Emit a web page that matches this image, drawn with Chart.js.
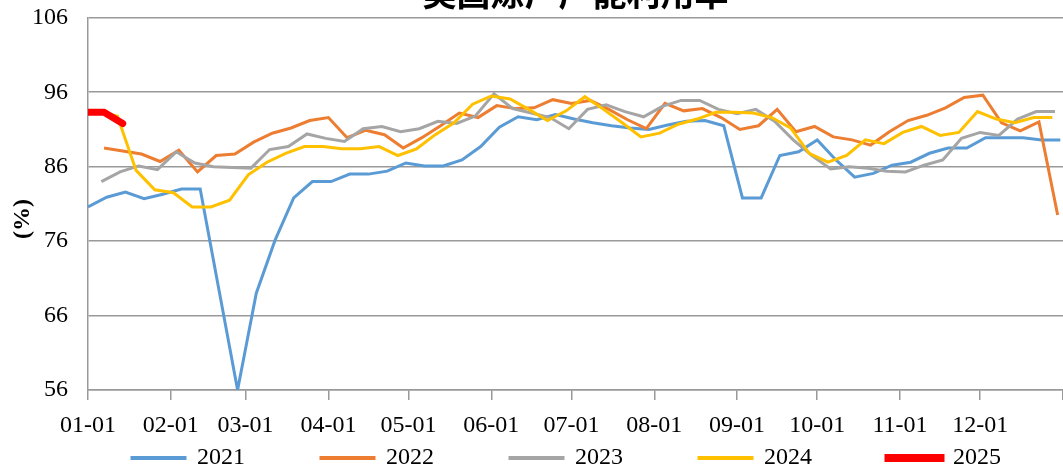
<!DOCTYPE html>
<html>
<head>
<meta charset="utf-8">
<script src="https://cdn.jsdelivr.net/npm/chart.js@4"></script>
<style>
  body { margin: 0; overflow: hidden; background: #fff; }
  /* title sits partly above the page edge, like the original screenshot */
  #wrap { position: absolute; left: 0; top: -30px; width: 1074px; height: 510px; }
</style>
</head>
<body>
<div id="wrap"><canvas id="myChart"></canvas></div>
<script>
const years = ["2021", "2022", "2023", "2024", "2025"];
// day of year (on the 01-01 .. 12-31 axis) of each year's first weekly reading
const firstDay = [0, 6, 5, 4, -1];

const v2021 = [80.6, 81.9, 82.6, 81.7, 82.3, 83.0, 83.0, 69.5, 56.0, 69.0,
  76.1, 81.8, 84.0, 84.0, 85.0, 85.0, 85.4, 86.5, 86.1, 86.1,
  86.9, 88.7, 91.3, 92.7, 92.3, 93.0, 92.4, 91.9, 91.5, 91.2,
  91.0, 91.6, 92.1, 92.2, 91.5, 81.8, 81.8, 87.5, 88.0, 89.6,
  86.9, 84.6, 85.1, 86.2, 86.6, 87.8, 88.5, 88.5, 89.9, 89.9,
  89.9, 89.6, 89.6];
const v2022 = [88.5, 88.1, 87.7, 86.7, 88.2, 85.3, 87.5, 87.7, 89.3, 90.5,
  91.2, 92.2, 92.6, 89.9, 90.9, 90.3, 88.5, 89.9, 91.5, 93.2,
  92.6, 94.2, 93.8, 93.9, 95.0, 94.5, 94.9, 93.7, 92.3, 91.1,
  94.5, 93.5, 93.8, 92.6, 91.0, 91.5, 93.7, 90.7, 91.4, 90.0,
  89.6, 88.9, 90.7, 92.2, 92.9, 93.9, 95.3, 95.6, 91.9, 90.8,
  92.0, 79.5];
const v2023 = [84.0, 85.3, 86.1, 85.6, 88.0, 86.5, 86.0, 85.9, 85.8, 88.3,
  88.7, 90.4, 89.8, 89.4, 91.1, 91.4, 90.7, 91.1, 92.1, 91.8,
  92.8, 95.8, 93.8, 93.2, 92.6, 91.1, 93.7, 94.3, 93.4, 92.7,
  94.1, 94.9, 94.9, 93.7, 93.1, 93.7, 92.1, 89.6, 87.5, 85.7,
  86.0, 85.8, 85.4, 85.3, 86.2, 86.9, 89.8, 90.6, 90.2, 92.4,
  93.4, 93.4];
const v2024 = [93.3, 92.8, 85.5, 82.9, 82.5, 80.6, 80.6, 81.5, 84.9, 86.6,
  87.8, 88.7, 88.7, 88.4, 88.4, 88.7, 87.5, 88.4, 90.3, 91.9,
  94.4, 95.5, 95.1, 93.7, 92.2, 93.5, 95.4, 93.7, 91.9, 90.0,
  90.5, 91.7, 92.4, 93.3, 93.3, 93.2, 92.6, 91.2, 87.8, 86.6,
  87.5, 89.6, 89.1, 90.6, 91.4, 90.2, 90.6, 93.4, 92.4, 91.9,
  92.6, 92.6];
const v2025 = [93.3, 93.3, 91.8];

const monthTicks = [0, 31, 59, 90, 120, 151, 181, 212, 243, 273, 304, 334, 365];
const monthLabels = ["01-01", "02-01", "03-01", "04-01", "05-01", "06-01",
  "07-01", "08-01", "09-01", "10-01", "11-01", "12-01", ""];

const colors = ["#5B9BD5", "#ED7D31", "#A5A5A5", "#FFC000", "#FF0000"];
const widths = [3, 3, 3, 3, 7];
const serif = "'Liberation Serif', 'Times New Roman', serif";

const allValues = [v2021, v2022, v2023, v2024, v2025];

const datasets = allValues.map((vals, k) => ({
  label: years[k],
  data: vals.map((v, i) => ({ x: firstDay[k] + 7 * i, y: v })),
  borderColor: colors[k],
  backgroundColor: colors[k],
  borderWidth: widths[k],
  borderCapStyle: k == 4 ? "round" : "butt",
  pointRadius: 0,
  tension: 0,
  clip: 0,
  order: 4 - k, // later years drawn on top
}));

const config = {
  type: "line",
  data: { datasets: datasets },
  options: {
    responsive: true,
    maintainAspectRatio: false,
    animation: false,
    layout: { padding: { left: 0, right: 2, top: 0, bottom: 0 } },
    plugins: {
      title: {
        display: true,
        text: "美国炼厂产能利用率",
        fullSize: false,
        color: "#000",
        font: { family: "'Noto Sans CJK SC'", size: 34, weight: "bold" },
        padding: { top: 3, bottom: 4 },
      },
      legend: {
        position: "bottom",
        fullSize: false,
        labels: {
          boxWidth: 53,
          boxHeight: 1,
          padding: 10,
          color: "#000",
          font: { family: serif, size: 24 },
          generateLabels: (chart) =>
            chart.data.datasets.map((ds, i) => ({
              // trailing spaces give the wide gaps between legend items
              text: i < years.length - 1 ? ds.label + "           " : ds.label + "   ",
              fillStyle: ds.borderColor,
              strokeStyle: ds.borderColor,
              lineWidth: ds.borderWidth,
              lineCap: "round",
              fontColor: "#000",
              hidden: false,
              datasetIndex: i,
            })),
        },
      },
      tooltip: { enabled: false },
    },
    scales: {
      x: {
        type: "linear",
        min: 0,
        max: 365,
        afterBuildTicks: (s) => {
          s.ticks = monthTicks.map((v) => ({ value: v }));
        },
        afterFit: (s) => {
          s.height = 46;
        },
        ticks: {
          autoSkip: false,
          maxRotation: 0,
          padding: 11,
          color: "#000",
          font: { family: serif, size: 24 },
          callback: (v, i) => monthLabels[i],
        },
        grid: { drawOnChartArea: false, tickLength: 10, color: "#999", lineWidth: 1.5 },
        border: { color: "#999", width: 1.5 },
      },
      y: {
        min: 56,
        max: 106,
        afterFit: (s) => {
          s.width = 88;
        },
        ticks: {
          stepSize: 10,
          padding: 20,
          color: "#000",
          font: { family: serif, size: 24 },
        },
        grid: { drawTicks: false, color: "#999", lineWidth: 1.5 },
        border: { color: "#999", width: 1.5 },
        title: {
          display: true,
          text: "(%)     ",
          color: "#000",
          font: { family: serif, size: 24, weight: "bold" },
          padding: { top: 8, bottom: 0 },
        },
      },
    },
  },
};

const myChart = new Chart(document.getElementById("myChart"), config);
</script>
</body>
</html>
